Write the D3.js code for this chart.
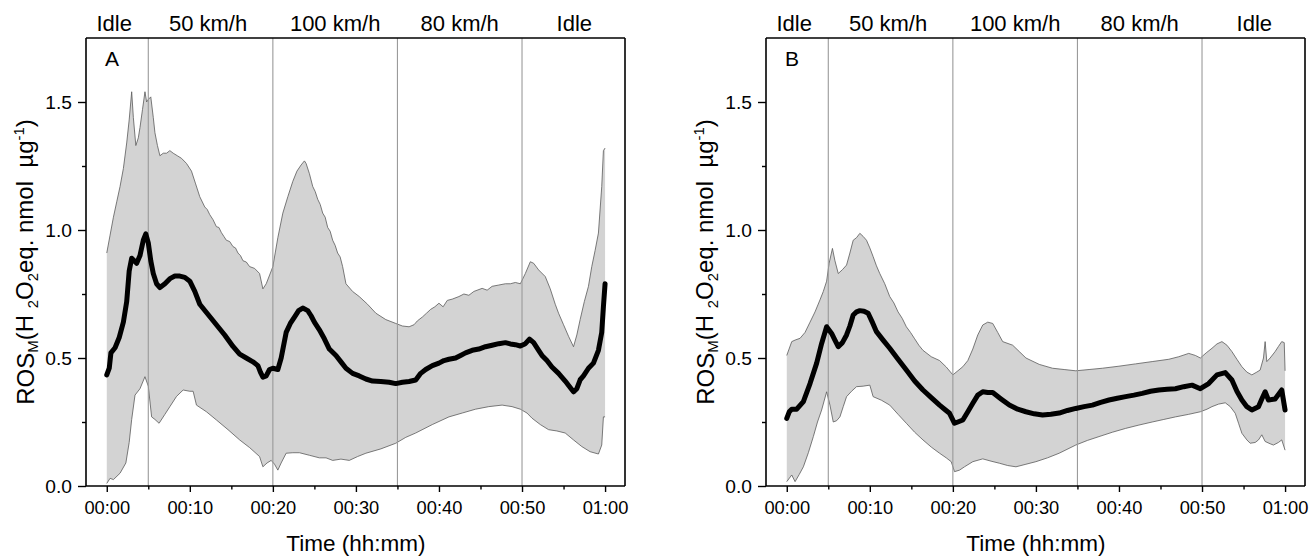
<!DOCTYPE html>
<html>
<head>
<meta charset="utf-8">
<script src="https://cdn.jsdelivr.net/npm/d3@7"></script>
<style>
  html, body { margin: 0; padding: 0; background: #fff; }
  svg { display: block; font-family: "Liberation Sans", Arial, Helvetica, sans-serif; }
</style>
</head>
<body>
<svg id="chart" width="1309" height="557"></svg>
<script>
// ---------------- DATA ----------------
const majorTicks = [0, 10, 20, 30, 40, 50, 60];
const minorTicks = [5, 15, 25, 35, 45, 55];
const tickLabels = ["00:00", "00:10", "00:20", "00:30", "00:40", "00:50", "01:00"];
const yMajor = [0.0, 0.5, 1.0, 1.5];
const yMinor = [0.25, 0.75, 1.25];
const phaseLines = [5, 20, 35, 50];
const phaseNames = ["Idle", "50 km/h", "100 km/h", "80 km/h", "Idle"];
const phaseCenters = [0.9, 12.2, 27.5, 42.5, 56.3];
const panelNames = ["A", "B"];

const meanA = [[0,0.434],[0.3,0.46],[0.5,0.52],[1.0,0.54],[1.5,0.58],[2.0,0.64],[2.4,0.72],[2.7,0.84],[3.0,0.89],[3.3,0.88],[3.6,0.87],[4.0,0.90],[4.4,0.96],[4.7,0.985],[5.0,0.95],[5.3,0.88],[5.6,0.83],[6.0,0.79],[6.4,0.775],[7.0,0.79],[7.6,0.81],[8.2,0.82],[8.8,0.82],[9.4,0.815],[10.0,0.80],[10.6,0.76],[11.2,0.71],[12.2,0.67],[13.2,0.63],[14.2,0.59],[15.2,0.545],[16.0,0.515],[16.8,0.50],[17.6,0.485],[18.2,0.47],[18.5,0.445],[18.8,0.425],[19.2,0.43],[19.6,0.455],[20.0,0.46],[20.6,0.455],[21.0,0.50],[21.6,0.60],[22.1,0.635],[22.6,0.66],[23.1,0.685],[23.6,0.695],[24.2,0.685],[24.6,0.665],[25.0,0.64],[25.6,0.61],[26.2,0.575],[26.8,0.535],[27.6,0.51],[28.2,0.485],[28.8,0.46],[29.6,0.44],[30.4,0.43],[31.2,0.418],[32.0,0.41],[33.0,0.408],[34.0,0.405],[34.8,0.40],[35.6,0.405],[36.4,0.408],[37.2,0.414],[37.8,0.44],[38.4,0.455],[39.2,0.47],[40.0,0.48],[40.6,0.49],[41.2,0.495],[42.0,0.50],[42.6,0.51],[43.2,0.52],[44.0,0.53],[44.8,0.535],[45.6,0.544],[46.4,0.55],[47.2,0.556],[48.0,0.56],[48.6,0.555],[49.2,0.552],[49.8,0.547],[50.4,0.556],[50.9,0.574],[51.4,0.56],[52.0,0.53],[52.4,0.51],[53.0,0.49],[53.6,0.465],[54.4,0.44],[55.2,0.41],[55.8,0.385],[56.2,0.368],[56.6,0.38],[57.0,0.415],[57.4,0.43],[58.0,0.46],[58.6,0.48],[59.2,0.53],[59.6,0.60],[59.8,0.70],[60.0,0.79]];

const upperA = [[0,0.91],[0.4,0.98],[0.8,1.05],[1.2,1.11],[1.6,1.17],[2.0,1.24],[2.4,1.34],[2.7,1.43],[3.0,1.54],[3.2,1.44],[3.5,1.33],[3.8,1.36],[4.0,1.40],[4.3,1.47],[4.6,1.54],[4.8,1.50],[5.0,1.51],[5.3,1.52],[5.6,1.44],[5.8,1.38],[6.1,1.33],[6.4,1.29],[6.8,1.30],[7.2,1.30],[7.6,1.31],[8.0,1.30],[8.5,1.29],[9.0,1.28],[9.6,1.26],[10.2,1.23],[10.7,1.18],[11.2,1.13],[11.8,1.09],[12.1,1.08],[12.4,1.06],[12.8,1.04],[13.2,1.013],[13.5,1.01],[13.8,0.99],[14.1,0.975],[14.4,0.96],[14.8,0.955],[15.2,0.935],[15.5,0.93],[15.8,0.91],[16.1,0.9],[16.4,0.88],[16.8,0.875],[17.2,0.857],[17.8,0.85],[18.4,0.83],[18.8,0.77],[19.2,0.79],[19.8,0.84],[20.0,0.857],[20.6,0.97],[21.2,1.066],[21.8,1.13],[22.4,1.19],[22.9,1.23],[23.4,1.254],[23.8,1.27],[24.0,1.26],[24.4,1.22],[24.8,1.17],[25.1,1.15],[25.4,1.12],[25.7,1.1],[26.0,1.066],[26.3,1.05],[26.6,1.01],[26.9,0.995],[27.2,0.96],[27.5,0.94],[27.8,0.91],[28.1,0.895],[28.4,0.857],[28.8,0.79],[29.6,0.76],[30.4,0.74],[31.4,0.71],[32.4,0.675],[33.6,0.65],[34.8,0.635],[35.6,0.625],[36.4,0.622],[37.0,0.63],[37.4,0.645],[38.0,0.66],[38.5,0.675],[39.0,0.69],[39.5,0.70],[40.0,0.714],[40.5,0.70],[41.0,0.725],[41.6,0.73],[42.4,0.74],[43.0,0.75],[43.6,0.745],[44.2,0.76],[45.2,0.772],[45.8,0.765],[46.4,0.78],[47.2,0.785],[48.0,0.79],[48.6,0.79],[49.2,0.795],[49.8,0.79],[50.4,0.83],[51.0,0.876],[51.4,0.87],[52.0,0.844],[52.8,0.818],[53.4,0.77],[54.0,0.71],[54.4,0.675],[55.0,0.63],[55.6,0.585],[56.2,0.544],[56.6,0.59],[57.0,0.65],[57.5,0.72],[58.0,0.78],[58.4,0.857],[58.8,0.92],[59.2,0.988],[59.6,1.17],[59.8,1.31],[60.0,1.32]];

const lowerA = [[0,0.01],[0.4,0.03],[0.8,0.025],[1.6,0.05],[2.3,0.09],[2.7,0.17],[3.0,0.26],[3.4,0.355],[4.0,0.38],[4.6,0.427],[5.0,0.39],[5.4,0.27],[5.8,0.26],[6.3,0.245],[7.0,0.28],[7.6,0.31],[8.4,0.35],[9.2,0.375],[10.0,0.37],[10.4,0.37],[10.8,0.316],[12.0,0.29],[13.2,0.258],[14.6,0.22],[16.0,0.18],[17.2,0.15],[18.4,0.115],[18.8,0.075],[19.3,0.09],[19.8,0.10],[20.2,0.085],[20.6,0.062],[21.0,0.09],[21.6,0.128],[22.4,0.13],[23.2,0.13],[24.4,0.12],[25.6,0.11],[26.4,0.11],[27.2,0.10],[28.2,0.105],[29.2,0.10],[30.2,0.115],[31.2,0.128],[33.0,0.145],[34.8,0.167],[36.0,0.19],[37.2,0.207],[39.2,0.24],[41.2,0.27],[42.8,0.285],[44.4,0.30],[46.0,0.31],[47.6,0.316],[48.8,0.31],[49.8,0.30],[50.6,0.285],[51.2,0.265],[52.2,0.24],[53.2,0.22],[54.2,0.215],[55.2,0.207],[56.2,0.18],[57.2,0.154],[58.2,0.134],[59.2,0.125],[59.6,0.16],[59.8,0.27],[60,0.27]];

const meanB = [[0,0.264],[0.3,0.29],[0.6,0.30],[1.2,0.30],[2.0,0.33],[2.8,0.40],[3.6,0.48],[4.2,0.557],[4.8,0.622],[5.4,0.596],[5.8,0.57],[6.2,0.544],[6.7,0.56],[7.2,0.59],[7.6,0.625],[8.0,0.668],[8.4,0.68],[8.8,0.685],[9.3,0.683],[9.8,0.675],[10.3,0.64],[10.8,0.603],[11.6,0.57],[12.4,0.538],[13.4,0.495],[14.4,0.453],[15.4,0.41],[16.4,0.375],[17.4,0.345],[18.4,0.316],[19.0,0.30],[19.6,0.284],[20.2,0.245],[20.6,0.25],[21.2,0.258],[21.8,0.29],[22.4,0.323],[23.0,0.355],[23.6,0.368],[24.2,0.365],[24.8,0.365],[25.8,0.34],[26.8,0.316],[27.8,0.30],[28.8,0.29],[29.8,0.282],[30.8,0.277],[31.8,0.28],[32.8,0.285],[33.8,0.295],[34.8,0.303],[35.8,0.31],[36.8,0.316],[37.8,0.327],[38.8,0.336],[39.8,0.343],[40.8,0.349],[41.8,0.355],[42.8,0.362],[43.8,0.37],[44.8,0.375],[45.8,0.378],[46.8,0.38],[47.8,0.388],[48.8,0.394],[49.8,0.38],[50.8,0.40],[51.8,0.434],[52.8,0.443],[53.6,0.414],[54.2,0.37],[54.8,0.336],[55.4,0.31],[56.0,0.297],[56.8,0.31],[57.2,0.34],[57.6,0.368],[58.0,0.336],[58.8,0.34],[59.6,0.375],[60,0.297]];

const upperB = [[0,0.51],[0.6,0.564],[1.0,0.57],[1.6,0.577],[2.2,0.60],[2.8,0.64],[3.4,0.68],[4.0,0.727],[4.4,0.76],[4.8,0.80],[5.1,0.87],[5.5,0.928],[5.8,0.88],[6.2,0.83],[6.7,0.845],[7.2,0.863],[7.6,0.91],[8.0,0.96],[8.4,0.97],[8.8,0.987],[9.2,0.975],[9.6,0.96],[10.0,0.93],[10.4,0.896],[10.8,0.86],[11.2,0.83],[11.8,0.79],[12.4,0.74],[12.9,0.715],[13.4,0.68],[13.9,0.655],[14.4,0.622],[14.9,0.6],[15.4,0.575],[15.9,0.55],[16.4,0.53],[17.4,0.505],[18.4,0.49],[19.2,0.465],[20.0,0.434],[20.6,0.45],[21.2,0.466],[21.8,0.49],[22.4,0.535],[23.0,0.59],[23.6,0.629],[24.2,0.64],[24.8,0.635],[25.4,0.60],[26.0,0.564],[27.2,0.55],[28.0,0.525],[28.8,0.50],[30.4,0.475],[32.0,0.46],[33.4,0.455],[34.8,0.45],[36.4,0.455],[38.0,0.46],[40.0,0.468],[42.0,0.477],[44.0,0.486],[46.0,0.495],[47.2,0.505],[48.4,0.518],[49.2,0.51],[49.8,0.50],[50.5,0.52],[51.2,0.538],[51.8,0.555],[52.4,0.564],[53.0,0.55],[53.6,0.525],[54.2,0.495],[54.8,0.466],[55.4,0.445],[56.0,0.434],[56.6,0.445],[57.0,0.453],[57.4,0.50],[57.6,0.564],[57.8,0.486],[58.2,0.50],[58.8,0.525],[59.2,0.545],[59.6,0.564],[59.9,0.56],[60,0.45]];

const lowerB = [[0,0.017],[0.6,0.043],[1.0,0.017],[1.5,0.045],[2.0,0.075],[2.6,0.13],[3.2,0.193],[3.7,0.25],[4.2,0.297],[4.8,0.368],[5.2,0.316],[5.6,0.25],[6.0,0.255],[6.4,0.27],[6.8,0.31],[7.2,0.349],[7.8,0.37],[8.4,0.388],[9.2,0.39],[10.0,0.394],[10.4,0.349],[11.4,0.335],[12.4,0.316],[13.4,0.28],[14.4,0.245],[15.4,0.21],[16.4,0.18],[17.4,0.152],[18.4,0.128],[19.2,0.11],[19.8,0.095],[20.2,0.056],[20.8,0.062],[21.4,0.075],[22.4,0.095],[23.6,0.106],[24.6,0.097],[25.6,0.089],[26.6,0.08],[27.6,0.075],[28.8,0.085],[30.0,0.095],[31.4,0.11],[32.8,0.128],[34.8,0.16],[36.2,0.178],[37.6,0.193],[39.2,0.21],[40.8,0.225],[42.4,0.238],[44.0,0.25],[45.4,0.26],[46.8,0.27],[48.4,0.28],[49.8,0.29],[50.6,0.30],[51.2,0.31],[52.0,0.32],[52.8,0.325],[53.4,0.31],[54.0,0.284],[54.4,0.245],[54.8,0.206],[55.4,0.18],[55.8,0.167],[56.4,0.17],[56.8,0.18],[57.2,0.20],[57.6,0.174],[58.2,0.165],[58.6,0.16],[59.2,0.17],[59.6,0.18],[60,0.14]];

// ---------------- DRAW ----------------
const svg = d3.select("#chart");
const FONT = '"Liberation Sans", Arial, Helvetica, sans-serif';
const panels = [
  { name: panelNames[0], left: 86, mean: meanA, upper: upperA, lower: lowerA },
  { name: panelNames[1], left: 766, mean: meanB, upper: upperB, lower: lowerB }
];
const plotW = 539, plotTop = 38, plotBottom = 486;

const y = d3.scaleLinear().domain([0, 1.75]).range([plotBottom, plotTop]);

panels.forEach(p => {
  const x = d3.scaleLinear().domain([-2.5, 62.4]).range([p.left, p.left + plotW]);
  const g = svg.append("g");

  // band
  const line = d3.line().x(d => x(d[0])).y(d => y(d[1]));
  const poly = p.upper.concat(p.lower.slice().reverse());
  g.append("path").attr("d", line(poly) + "Z")
    .attr("fill", "#d3d3d3").attr("stroke", "none");
  g.append("path").attr("d", line(p.upper)).attr("fill", "none")
    .attr("stroke", "#5a5a5a").attr("stroke-width", 0.8);
  g.append("path").attr("d", line(p.lower)).attr("fill", "none")
    .attr("stroke", "#5a5a5a").attr("stroke-width", 0.8);

  // phase divider lines
  g.selectAll("line.phase").data(phaseLines).join("line")
    .attr("class", "phase")
    .attr("x1", d => x(d)).attr("x2", d => x(d))
    .attr("y1", plotTop).attr("y2", plotBottom)
    .attr("stroke", "#9a9a9a").attr("stroke-width", 1.1);

  // mean line
  g.append("path").attr("d", line(p.mean)).attr("fill", "none")
    .attr("stroke", "#000").attr("stroke-width", 5)
    .attr("stroke-linejoin", "round").attr("stroke-linecap", "round");

  // frame (top and right)
  g.append("line").attr("x1", p.left).attr("x2", p.left + plotW)
    .attr("y1", plotTop).attr("y2", plotTop).attr("stroke", "#000").attr("stroke-width", 1.6);
  g.append("line").attr("x1", p.left + plotW).attr("x2", p.left + plotW)
    .attr("y1", plotTop).attr("y2", plotBottom).attr("stroke", "#000").attr("stroke-width", 1.6);

  // bottom axis
  const xAxis = d3.axisBottom(x).tickValues(majorTicks).tickSize(6).tickSizeOuter(0)
    .tickPadding(9).tickFormat((d, i) => tickLabels[i]);
  const xa = g.append("g").attr("transform", `translate(0,${plotBottom})`).call(xAxis);
  const xMinor = d3.axisBottom(x).tickValues(minorTicks).tickSize(3.5).tickSizeOuter(0).tickFormat("");
  const xm = g.append("g").attr("transform", `translate(0,${plotBottom})`).call(xMinor);
  xm.select(".domain").remove();
  [xa, xm].forEach(a => {
    a.selectAll(".domain").attr("stroke", "#000").attr("stroke-width", 1.6)
      .attr("d", `M${p.left},0H${p.left + plotW}`);
    a.selectAll(".tick line").attr("stroke", "#000").attr("stroke-width", 1.4);
  });
  xa.selectAll(".tick text").attr("font-size", 18.3).attr("font-family", FONT).attr("fill", "#000");

  // left axis
  const yAxis = d3.axisLeft(y).tickValues(yMajor).tickSize(8).tickSizeOuter(0)
    .tickPadding(6).tickFormat(d3.format(".1f"));
  const ya = g.append("g").attr("transform", `translate(${p.left},0)`).call(yAxis);
  const yMin = d3.axisLeft(y).tickValues(yMinor).tickSize(4).tickSizeOuter(0).tickFormat("");
  const ym = g.append("g").attr("transform", `translate(${p.left},0)`).call(yMin);
  ym.select(".domain").remove();
  [ya, ym].forEach(a => {
    a.selectAll(".domain").attr("stroke", "#000").attr("stroke-width", 1.6)
      .attr("d", `M0,${plotTop}V${plotBottom}`);
    a.selectAll(".tick line").attr("stroke", "#000").attr("stroke-width", 1.4);
  });
  ya.selectAll(".tick text").attr("font-size", 19.2).attr("font-family", FONT).attr("fill", "#000");

  // phase names above
  g.selectAll("text.phase").data(phaseNames).join("text")
    .attr("class", "phase")
    .attr("x", (d, i) => x(phaseCenters[i])).attr("y", 30.5)
    .attr("text-anchor", "middle").attr("font-size", 22).attr("font-family", FONT)
    .text(d => d);

  // panel letter
  g.append("text").attr("x", p.left + 19).attr("y", 65.5)
    .attr("font-size", 21).attr("font-family", FONT).text(p.name);

  // x title
  g.append("text").attr("x", x(30)).attr("y", 551)
    .attr("text-anchor", "middle").attr("font-size", 22.5).attr("font-family", FONT)
    .text("Time (hh:mm)");

  // y title
  const yt = g.append("text")
    .attr("transform", `translate(${p.left - 52.5},262) rotate(-90)`)
    .attr("text-anchor", "middle").attr("font-size", 24).attr("font-family", FONT)
    .attr("xml:space", "preserve");
  yt.append("tspan").text("ROS");
  yt.append("tspan").attr("font-size", "0.62em").attr("dy", "0.3em").text("M");
  yt.append("tspan").attr("dy", "-0.19em").text("(H ");
  yt.append("tspan").attr("font-size", "0.62em").attr("dy", "0.3em").text("2");
  yt.append("tspan").attr("dy", "-0.19em").text("O");
  yt.append("tspan").attr("font-size", "0.62em").attr("dy", "0.3em").text("2");
  yt.append("tspan").attr("dy", "-0.19em").text("eq. nmol\u00A0 µg");
  yt.append("tspan").attr("font-size", "0.62em").attr("dy", "-0.6em").text("-1");
  yt.append("tspan").attr("dy", "0.37em").text(")");
});
</script>
</body>
</html>
